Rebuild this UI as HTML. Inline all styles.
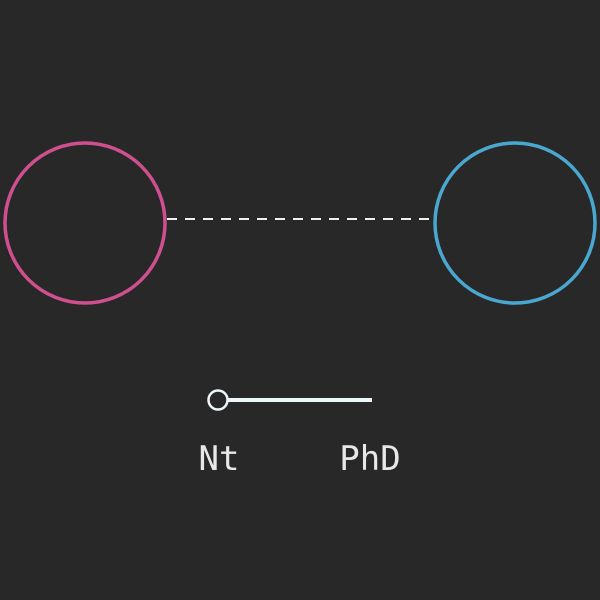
<!DOCTYPE html>
<html><head><style>html,body{margin:0;padding:0;background:#282828;}svg{display:block}</style></head>
<body>
<svg width="600" height="600" viewBox="0 0 600 600">
<rect width="600" height="600" fill="#282828"/>
<circle cx="85" cy="223" r="80" fill="none" stroke="#d0508f" stroke-width="3.5"/>
<circle cx="515" cy="223" r="80" fill="none" stroke="#4aa8d0" stroke-width="3.5"/>
<line x1="167" y1="219" x2="433" y2="219" stroke="#eeeeee" stroke-width="2" stroke-dasharray="10 8"/>
<line x1="218" y1="400" x2="372" y2="400" stroke="#eef6fa" stroke-width="4"/>
<circle cx="218" cy="400" r="9.5" fill="#282828" stroke="#eef6fa" stroke-width="2.5"/>
<text x="219" y="470" text-anchor="middle" font-family="DejaVu Sans Mono, Liberation Mono, monospace" font-size="34" fill="#e8e8e8">Nt</text>
<text x="370" y="470" text-anchor="middle" font-family="DejaVu Sans Mono, Liberation Mono, monospace" font-size="34" fill="#e8e8e8">PhD</text>
</svg>
</body></html>
